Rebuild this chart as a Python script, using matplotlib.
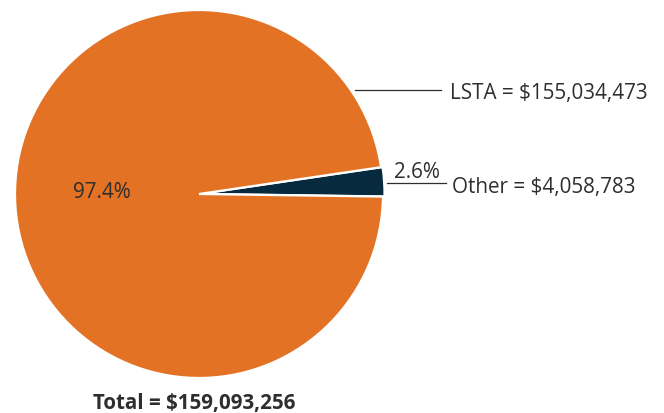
import matplotlib
matplotlib.use("Agg")
import matplotlib.pyplot as plt

plt.rcParams['font.family'] = ['Open Sans', 'DejaVu Sans']

categories = ["Other", "LSTA"]
values = [4058783, 155034473]
pct_labels = ["2.6%", "97.4%"]
total_label = "Total = $159,093,256"
colors = ["#072A3F", "#E37225"]
text_color = "#2e2e2e"

fig = plt.figure(figsize=(6.64, 4.13), dpi=100)
ax = fig.add_axes([0, 0, 1, 1])

cx, cy, r = 199, 413 - 194, 184
ax.pie(values, colors=colors, startangle=-0.8, counterclock=True,
       center=(cx, cy), radius=r, explode=[1.5, 0],
       wedgeprops=dict(edgecolor="white", linewidth=1.6), frame=True)
ax.set_xlim(0, 664)
ax.set_ylim(0, 413)
ax.set_aspect("equal")
ax.axis("off")

fs = 14.9
# LSTA label with leader line
ax.plot([355, 441], [413 - 90, 413 - 90], color=text_color, lw=0.9)
ax.text(450, 413 - 93, f"{categories[1]} = ${values[1]:,}", fontsize=fs,
        color=text_color, va="center", ha="left")

# Other label with leader line and percentage above it
ax.plot([387, 446], [413 - 183, 413 - 183], color=text_color, lw=0.9)
ax.text(417, 413 - 173, pct_labels[0], fontsize=fs, color=text_color,
        va="center", ha="center")
ax.text(452, 413 - 188, f"{categories[0]} = ${values[0]:,}", fontsize=fs,
        color=text_color, va="center", ha="left")

# Percentage inside the large slice
ax.text(102, 413 - 192, pct_labels[1], fontsize=fs, color=text_color,
        va="center", ha="center")

# Total below the pie
ax.text(194, 413 - 404, total_label, fontsize=14.8, fontweight="bold",
        color=text_color, va="center", ha="center")

fig.savefig("out.png", dpi=100)
